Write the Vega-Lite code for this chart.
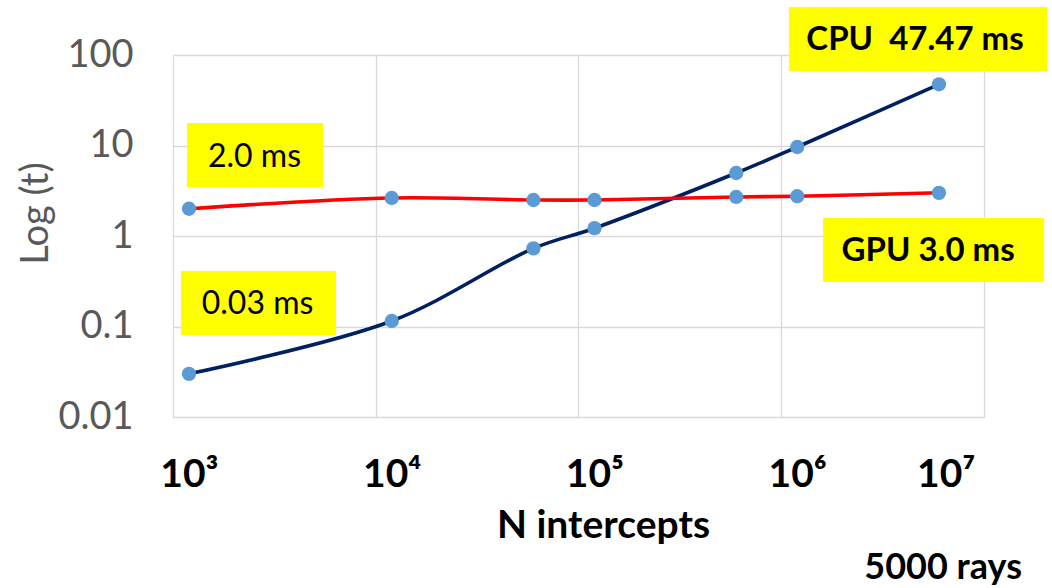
{
  "$schema": "https://vega.github.io/schema/vega-lite/v6.json",
  "width": 811,
  "height": 362,
  "autosize": {"type": "none"},
  "padding": {"left": 173, "top": 55, "right": 68, "bottom": 171},
  "background": "white",
  "config": {"view": {"stroke": null}, "font": "Lato"},
  "title": {
    "text": "5000 rays",
    "orient": "bottom",
    "anchor": "end",
    "frame": "group",
    "font": "Lato",
    "fontSize": 36,
    "fontWeight": "bold",
    "color": "black",
    "baseline": "alphabetic",
    "dx": 38,
    "offset": 34
  },
  "data": {
    "values": [
      {"n": 1000, "t": 0.03, "series": "CPU"},
      {"n": 10000, "t": 0.115, "series": "CPU"},
      {"n": 50000, "t": 0.73, "series": "CPU"},
      {"n": 100000, "t": 1.22, "series": "CPU"},
      {"n": 500000, "t": 4.97, "series": "CPU"},
      {"n": 1000000, "t": 9.62, "series": "CPU"},
      {"n": 5000000, "t": 47.47, "series": "CPU"},
      {"n": 1000, "t": 2.0, "series": "GPU"},
      {"n": 10000, "t": 2.63, "series": "GPU"},
      {"n": 50000, "t": 2.5, "series": "GPU"},
      {"n": 100000, "t": 2.5, "series": "GPU"},
      {"n": 500000, "t": 2.7, "series": "GPU"},
      {"n": 1000000, "t": 2.75, "series": "GPU"},
      {"n": 5000000, "t": 3.0, "series": "GPU"}
    ]
  },
  "resolve": {"axis": {"x": "independent"}},
  "layer": [
    {
      "mark": {"type": "line", "interpolate": "catmull-rom", "strokeWidth": 3.6},
      "encoding": {
        "x": {
          "field": "n",
          "type": "quantitative",
          "scale": {"type": "log", "domain": [834, 8340000], "nice": false},
          "axis": {
            "orient": "bottom",
            "values": [834, 8340, 83400, 834000, 8340000],
            "labels": false,
            "ticks": false,
            "domain": false,
            "grid": true,
            "gridColor": "#D9D9D9",
            "gridWidth": 1.3,
            "title": null
          }
        },
        "y": {
          "field": "t",
          "type": "quantitative",
          "scale": {"type": "log", "domain": [0.01, 100], "nice": false},
          "axis": {
            "values": [0.01, 0.1, 1, 10, 100],
            "format": "~g",
            "labelFont": "Lato",
            "labelFontSize": 38,
            "labelColor": "#595959",
            "labelPadding": 40,
            "labelOverlap": false,
            "labelFlush": false,
            "ticks": false,
            "tickSize": 0,
            "domain": false,
            "grid": true,
            "gridColor": "#D9D9D9",
            "gridWidth": 1.3,
            "title": "Log (t)",
            "titleFont": "Lato",
            "titleFontSize": 38,
            "titleFontWeight": "normal",
            "titleColor": "#595959",
            "titleAngle": -90,
            "titleAlign": "center",
            "titleBaseline": "alphabetic",
            "titleX": -126,
            "titleY": 158
          }
        },
        "color": {
          "field": "series",
          "type": "nominal",
          "scale": {"domain": ["CPU", "GPU"], "range": ["#002060", "#FF0000"]},
          "legend": null
        }
      }
    },
    {
      "mark": {"type": "circle", "size": 205, "color": "#5B9BD5", "opacity": 1},
      "encoding": {
        "x": {
          "field": "n",
          "type": "quantitative",
          "scale": {"type": "log", "domain": [834, 8340000], "nice": false},
          "axis": {
            "orient": "bottom",
            "values": [1000, 10000, 100000, 1000000, 5400000],
            "labelExpr": "'10' + ['³','⁴','⁵','⁶','⁷'][round(log(datum.value) / LN10 + 0.3) - 3]",
            "labelFont": "Lato",
            "labelFontSize": 39,
            "labelFontWeight": "bold",
            "labelColor": "black",
            "labelPadding": 69,
            "labelBaseline": "alphabetic",
            "labelFlush": false,
            "labelOverlap": false,
            "ticks": false,
            "tickSize": 0,
            "domain": false,
            "grid": false,
            "title": "N intercepts",
            "titleFont": "Lato",
            "titleFontSize": 39,
            "titleFontWeight": "bold",
            "titleColor": "black",
            "titleAlign": "center",
            "titleBaseline": "alphabetic",
            "titleX": 430,
            "titleY": 120
          }
        },
        "y": {"field": "t", "type": "quantitative", "scale": {"type": "log", "domain": [0.01, 100], "nice": false}}
      }
    },
    {
      "data": {"values": [{"label": "CPU\u00a0 47.47 ms"}]},
      "layer": [
        {
          "mark": {"type": "rect", "color": "#FFFF00"},
          "encoding": {
            "x": {"datum": 910000, "type": "quantitative", "scale": {"type": "log", "domain": [834, 8340000], "nice": false}, "axis": null},
            "x2": {"datum": 17100000},
            "y": {"datum": 339, "type": "quantitative", "scale": {"type": "log", "domain": [0.01, 100], "nice": false}},
            "y2": {"datum": 66.6}
          }
        },
        {
          "mark": {"type": "text", "align": "center", "baseline": "alphabetic", "font": "Lato", "fontSize": 33, "fontWeight": "bold", "color": "black"},
          "encoding": {
            "x": {"datum": 3810000, "type": "quantitative", "scale": {"type": "log", "domain": [834, 8340000], "nice": false}, "axis": null},
            "y": {"datum": 114, "type": "quantitative", "scale": {"type": "log", "domain": [0.01, 100], "nice": false}},
            "text": {"field": "label"}
          }
        }
      ]
    },
    {
      "data": {"values": [{"label": "2.0 ms"}]},
      "layer": [
        {
          "mark": {"type": "rect", "color": "#FFFF00"},
          "encoding": {
            "x": {"datum": 977, "type": "quantitative", "scale": {"type": "log", "domain": [834, 8340000], "nice": false}, "axis": null},
            "x2": {"datum": 4580},
            "y": {"datum": 17.7, "type": "quantitative", "scale": {"type": "log", "domain": [0.01, 100], "nice": false}},
            "y2": {"datum": 3.48}
          }
        },
        {
          "mark": {"type": "text", "align": "center", "baseline": "alphabetic", "font": "Lato", "fontSize": 32, "color": "black"},
          "encoding": {
            "x": {"datum": 2104, "type": "quantitative", "scale": {"type": "log", "domain": [834, 8340000], "nice": false}, "axis": null},
            "y": {"datum": 5.78, "type": "quantitative", "scale": {"type": "log", "domain": [0.01, 100], "nice": false}},
            "text": {"field": "label"}
          }
        }
      ]
    },
    {
      "data": {"values": [{"label": "0.03 ms"}]},
      "layer": [
        {
          "mark": {"type": "rect", "color": "#FFFF00"},
          "encoding": {
            "x": {"datum": 913, "type": "quantitative", "scale": {"type": "log", "domain": [834, 8340000], "nice": false}, "axis": null},
            "x2": {"datum": 5309},
            "y": {"datum": 0.41, "type": "quantitative", "scale": {"type": "log", "domain": [0.01, 100], "nice": false}},
            "y2": {"datum": 0.0805}
          }
        },
        {
          "mark": {"type": "text", "align": "center", "baseline": "alphabetic", "font": "Lato", "fontSize": 32, "color": "black"},
          "encoding": {
            "x": {"datum": 2178, "type": "quantitative", "scale": {"type": "log", "domain": [834, 8340000], "nice": false}, "axis": null},
            "y": {"datum": 0.1375, "type": "quantitative", "scale": {"type": "log", "domain": [0.01, 100], "nice": false}},
            "text": {"field": "label"}
          }
        }
      ]
    },
    {
      "data": {"values": [{"label": "GPU 3.0 ms"}]},
      "layer": [
        {
          "mark": {"type": "rect", "color": "#FFFF00"},
          "encoding": {
            "x": {"datum": 1340000, "type": "quantitative", "scale": {"type": "log", "domain": [834, 8340000], "nice": false}, "axis": null},
            "x2": {"datum": 16500000},
            "y": {"datum": 1.58, "type": "quantitative", "scale": {"type": "log", "domain": [0.01, 100], "nice": false}},
            "y2": {"datum": 0.31}
          }
        },
        {
          "mark": {"type": "text", "align": "center", "baseline": "alphabetic", "font": "Lato", "fontSize": 33, "fontWeight": "bold", "color": "black"},
          "encoding": {
            "x": {"datum": 4420000, "type": "quantitative", "scale": {"type": "log", "domain": [834, 8340000], "nice": false}, "axis": null},
            "y": {"datum": 0.53, "type": "quantitative", "scale": {"type": "log", "domain": [0.01, 100], "nice": false}},
            "text": {"field": "label"}
          }
        }
      ]
    }
  ]
}
